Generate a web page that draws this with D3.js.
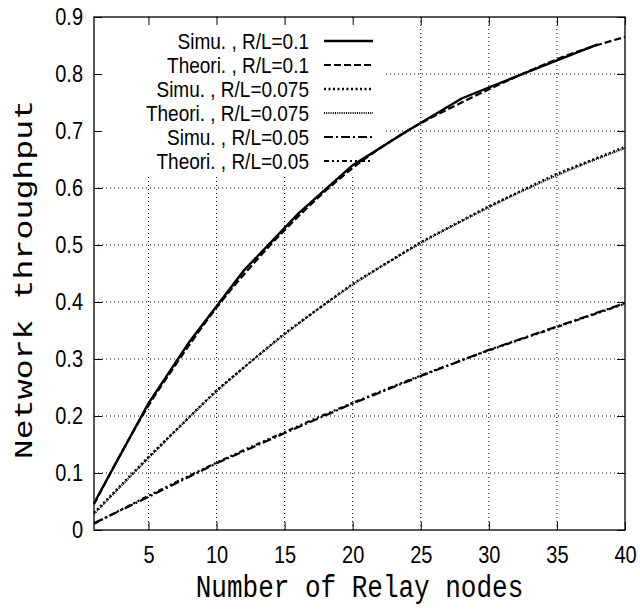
<!DOCTYPE html>
<html>
<head>
<meta charset="utf-8">
<script src="https://cdn.jsdelivr.net/npm/d3@7"></script>
<style>
  body { margin: 0; background: #fff; }
  svg { display: block; }
</style>
</head>
<body>
<svg id="chart" width="640" height="609"></svg>
<script>
// ---- data ----
const xTicks = [5, 10, 15, 20, 25, 30, 35, 40];
const yTicks = [0, 0.1, 0.2, 0.3, 0.4, 0.5, 0.6, 0.7, 0.8, 0.9];

const simX1 = [1, 5, 8, 12, 16, 20, 24, 28, 33, 38];
const simY1 = [0.047, 0.222, 0.33, 0.455, 0.555, 0.64, 0.70, 0.757, 0.805, 0.852];

const theoX1 = [1, 3, 5, 7, 10, 13, 16, 20, 24, 28, 32, 36, 40];
const theoY1 = [0.045, 0.135, 0.218, 0.29, 0.39, 0.475, 0.55, 0.635, 0.70, 0.75, 0.795, 0.835, 0.865];

const simX2 = [1, 5, 10, 15, 20, 25, 30, 35, 40];
const simY2 = [0.030, 0.128, 0.245, 0.345, 0.432, 0.505, 0.568, 0.625, 0.672];
const theoX2 = [1, 5, 10, 15, 20, 25, 30, 35, 40];
const theoY2 = [0.028, 0.126, 0.243, 0.343, 0.430, 0.503, 0.566, 0.622, 0.670];

const simX3 = [1, 5, 10, 15, 20, 25, 30, 35, 40];
const simY3 = [0.012, 0.058, 0.117, 0.170, 0.222, 0.270, 0.316, 0.357, 0.398];
const theoX3 = [1, 5, 10, 15, 20, 25, 30, 35, 40];
const theoY3 = [0.011, 0.060, 0.118, 0.172, 0.223, 0.271, 0.315, 0.356, 0.397];

const seriesNames = ["Simu. , R/L=0.1", "Theori. , R/L=0.1", "Simu. , R/L=0.075",
                     "Theori. , R/L=0.075", "Simu. , R/L=0.05", "Theori. , R/L=0.05"];

// ---- layout ----
const svg = d3.select("#chart");
const L = 94, R = 625, T = 17, B = 530;
const S = 1.2; // vertical stretch of text in the original figure
const x = d3.scaleLinear().domain([1, 40]).range([L, R]);
const y = d3.scaleLinear().domain([0, 0.9]).range([B, T]);
const sansFont = "'Liberation Sans', Arial, sans-serif";
const monoFont = "'Liberation Mono', 'Courier New', monospace";

const styles = [
  { dash: null, w: 2.4, curve: d3.curveLinear },
  { dash: "7,3", w: 2.2, curve: d3.curveMonotoneX },
  { dash: "2,2.5", w: 2.4, curve: d3.curveLinear },
  { dash: "1,1.2", w: 2, curve: d3.curveMonotoneX },
  { dash: "9,3,2,3", w: 2.2, curve: d3.curveLinear },
  { dash: "5,3,2,3,2,3", w: 2.2, curve: d3.curveMonotoneX }
];
const series = [
  [simX1, simY1], [theoX1, theoY1], [simX2, simY2],
  [theoX2, theoY2], [simX3, simY3], [theoX3, theoY3]
];

// grid
const grid = svg.append("g").attr("stroke", "#000").attr("stroke-width", 1)
  .attr("stroke-dasharray", "1,3");
xTicks.filter(d => d < 40).forEach(d => {
  grid.append("line").attr("x1", x(d)).attr("x2", x(d)).attr("y1", T).attr("y2", B);
});
yTicks.filter(d => d > 0 && d < 0.9).forEach(d => {
  grid.append("line").attr("x1", L).attr("x2", R).attr("y1", y(d)).attr("y2", y(d));
});

// legend background (covers grid)
const legX = 309, legTop = 41, legStep = 24;
svg.append("rect").attr("x", L + 1).attr("y", T + 1)
  .attr("width", 385 - L).attr("height", 175 - T).attr("fill", "#fff");

// curves
series.forEach((s, i) => {
  const pts = s[0].map((v, k) => [v, s[1][k]]);
  const line = d3.line().x(d => x(d[0])).y(d => y(d[1])).curve(styles[i].curve);
  svg.append("path").attr("d", line(pts)).attr("fill", "none")
    .attr("stroke", "#000").attr("stroke-width", styles[i].w)
    .attr("stroke-dasharray", styles[i].dash);
});

// axes (ticks inward, mirrored)
const axB = d3.axisBottom(x).tickValues(xTicks).tickSizeInner(-8).tickSizeOuter(0);
const axT = d3.axisTop(x).tickValues(xTicks).tickSizeInner(-8).tickSizeOuter(0).tickFormat("");
const axL = d3.axisLeft(y).tickValues(yTicks).tickSizeInner(-8).tickSizeOuter(0).tickPadding(11)
  .tickFormat(d => d === 0 ? "0" : d.toFixed(1));
const axR = d3.axisRight(y).tickValues(yTicks).tickSizeInner(-8).tickSizeOuter(0).tickFormat("");

function styleAxis(g) {
  g.select(".domain").remove();
  g.selectAll("line").attr("stroke", "#000").attr("stroke-width", 1);
  g.selectAll("text").attr("fill", "#000")
    .style("font-family", sansFont).style("font-size", "20px");
}
svg.append("g").attr("transform", `translate(0,${B})`).call(axB).call(styleAxis)
  .selectAll("text").attr("y", 0).attr("dy", 0)
  .attr("transform", `translate(0,${563 - B}) scale(1,${S})`);
svg.append("g").attr("transform", `translate(0,${T})`).call(axT).call(styleAxis);
svg.append("g").attr("transform", `translate(${L},0)`).call(axL).call(styleAxis)
  .selectAll("text").attr("transform", `scale(1,${S})`);
svg.append("g").attr("transform", `translate(${R},0)`).call(axR).call(styleAxis);

// border
svg.append("rect").attr("x", L).attr("y", T).attr("width", R - L).attr("height", B - T)
  .attr("fill", "none").attr("stroke", "#000").attr("stroke-width", 1.3);

// legend
seriesNames.forEach((name, i) => {
  const yy = legTop + i * legStep;
  svg.append("text").attr("transform", `translate(${legX},${yy}) scale(1,${S - 0.04})`)
    .attr("dy", "0.35em").attr("text-anchor", "end")
    .style("font-family", sansFont).style("font-size", "19px").text(name);
  svg.append("line").attr("x1", 324).attr("x2", 373).attr("y1", yy).attr("y2", yy)
    .attr("stroke", "#000").attr("stroke-width", styles[i].w)
    .attr("stroke-dasharray", styles[i].dash);
});

// axis titles
svg.append("text").attr("transform", `translate(${(L + R) / 2},597) scale(1,${S})`)
  .attr("text-anchor", "middle")
  .style("font-family", monoFont).style("font-size", "26px")
  .text("Number of Relay nodes");
svg.append("text").attr("transform", `translate(32,${(T + B) / 2 + 6}) rotate(-90) scale(${S + 0.08},1)`)
  .attr("text-anchor", "middle")
  .style("font-family", monoFont).style("font-size", "26px")
  .text("Network throughput");
</script>
</body>
</html>
